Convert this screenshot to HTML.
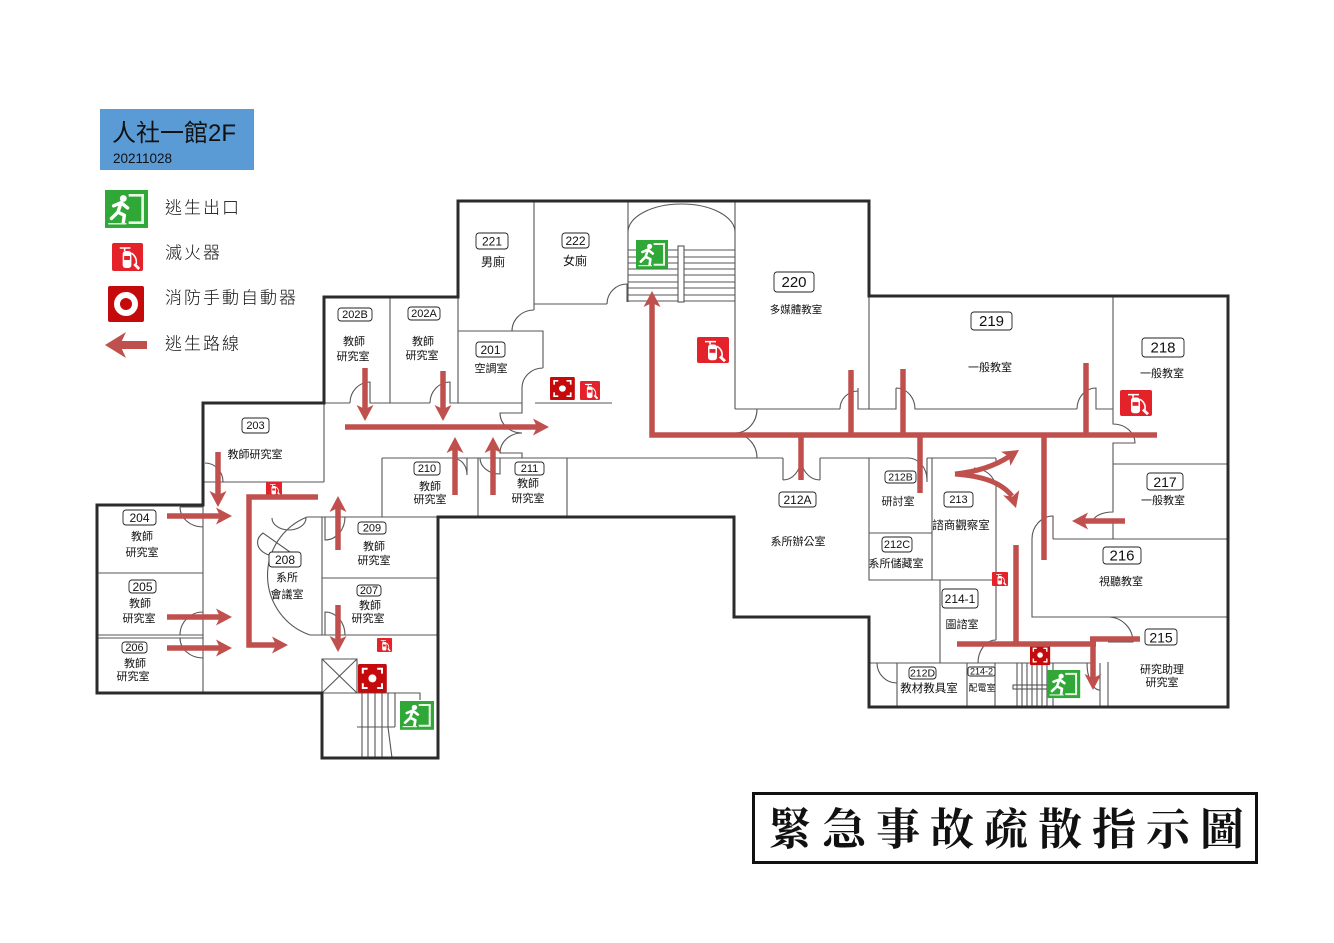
<!DOCTYPE html>
<html><head><meta charset="utf-8">
<style>
html,body{margin:0;padding:0;background:#fff;}
svg{display:block}
</style></head>
<body>
<svg width="1334" height="943" viewBox="0 0 1334 943" xmlns="http://www.w3.org/2000/svg">
<defs>
  <g id="exit">
    <rect width="40" height="36" fill="#2fa838"/>
    <path d="M22,5 H35 V31 H22" fill="none" stroke="#e9f7e4" stroke-width="2.5"/>
    <circle cx="17" cy="8" r="3.2" fill="#fff"/>
    <path d="M8,15 L15,12 L21,17 M15,12 L12,21 L6,27 M12,21 L18,24 L17,31" stroke="#fff" stroke-width="3.2" fill="none" stroke-linecap="round" stroke-linejoin="round"/>
    <path d="M3,32 H20" stroke="#dff2d8" stroke-width="1.5"/>
  </g>
  <g id="ext">
    <rect width="32" height="28" rx="2" fill="#e3222a"/>
    <rect x="11" y="8" width="9" height="17" rx="3" fill="#fff"/>
    <rect x="12.5" y="13" width="6" height="4" fill="#e3222a"/>
    <path d="M13,8 V5 H19 M8,5 H15 M20,10 Q26,14 25,21" stroke="#fff" stroke-width="1.6" fill="none"/>
    <path d="M23,21 L28,26" stroke="#fff" stroke-width="3"/>
  </g>
  <g id="alarm">
    <rect width="36" height="36" rx="2" fill="#c40a0a"/>
    <path d="M6,12 V6 H12 M24,6 H30 V12 M30,24 V30 H24 M12,30 H6 V24" stroke="#fff" stroke-width="2.5" fill="none"/>
    <circle cx="18" cy="18" r="5" fill="#fff"/>
  </g>
</defs>

<rect width="1334" height="943" fill="#fff"/>

<!-- Title box -->
<rect x="100" y="109" width="154" height="61" fill="#5b9bd5"/>
<text x="112" y="141" font-family="Liberation Sans, 'Noto Sans CJK TC', sans-serif" font-size="24" fill="#111">人社一館2F</text>
<text x="113" y="163" font-family="Liberation Sans, sans-serif" font-size="13.5" fill="#111">20211028</text>

<!-- Legend -->
<use href="#exit" transform="translate(105,190) scale(1.075,1.055)"/>
<use href="#ext" transform="translate(112,243) scale(0.97,1)"/>
<g transform="translate(108,286)">
  <rect width="36" height="36" rx="2" fill="#c40a0a"/>
  <circle cx="18" cy="18" r="12" fill="#fff"/>
  <circle cx="18" cy="18" r="6" fill="#c40a0a"/>
</g>
<path d="M147,345 H120" stroke="#c0504d" stroke-width="8"/>
<polygon points="105,345 126,332 120,345 126,358" fill="#c0504d"/>
<g font-family="Liberation Sans, 'Noto Sans CJK TC', sans-serif" font-size="17" font-weight="300" fill="#111" dominant-baseline="central" letter-spacing="2">
  <text x="165" y="208">逃生出口</text>
  <text x="165" y="253">滅火器</text>
  <text x="165" y="298">消防手動自動器</text>
  <text x="165" y="344">逃生路線</text>
</g>

<!-- Thin interior walls -->
<g fill="none" stroke="#555" stroke-width="1.1">
<path d="M534,201 V310 M458,297 V403 M390,297 V403 M458,331 H543 V368 M522,388 A21,20 0 0 1 543,368 M522,388 V403 M512,331 A22,21 0 0 1 534,310 M534,304 H607 M607,304 A20,20 0 0 1 627,284 V302 M628,201 V302 M735,201 V409 M628,232 A53.5,28 0 0 1 735,232"/>
<path d="M628,250 H678 M684,250 H735 M628,257 H678 M684,257 H735 M628,263 H678 M684,263 H735 M628,269 H678 M684,269 H735 M628,275 H678 M684,275 H735 M628,282 H678 M684,282 H735 M628,288 H678 M684,288 H735 M628,295 H678 M684,295 H735 M628,301 H678 M684,301 H735"/>
<rect x="678" y="246" width="6" height="56"/>
<path d="M735,409 H757 A22,24 0 0 1 735,433 M735,458 H757 A22,24 0 0 0 735,434 M735,409 H840 M840,409 A18,18 0 0 1 858,391 M858,388 V409 H896 V388 M896,388 A19,21 0 0 1 915,409 H1077 M1077,409 A19,21 0 0 1 1096,388 V409 H1113 M869,296 V409"/>
<path d="M1113,296 V424 A22,19 0 0 1 1135,443 H1113 V512 A20,10 0 0 0 1093,522 M1113,520 V539 M1113,464 H1228 M1053,539 H1228 M1032,539 V617 H1228 M1032,539 A21,23 0 0 1 1053,516 V539 M1108,617 A25,25 0 0 1 1133,642 H1108 M1108,662 V707 M1087,663 A13,27 0 0 0 1100,690 M1100,663 V707"/>
<path d="M996,458 V464 M974,468 Q992,470 996,486 M996,486 V640 M978,663 A18,23 0 0 1 996,640 M869,458 V580 H996 M932,458 V580 M869,533 H932 M869,458 H908 M908,458 A19,22 0 0 1 927,480 M927,458 V482 M927,458 H996 M820,458 H869 M783,458 V480 M820,458 V480 M783,480 A18,22 0 0 0 801,458 M820,480 A19,22 0 0 1 801,458"/>
<path d="M382,458 H783 M382,458 V517 M478,458 V517 M567,458 V517 M940,580 V663 M869,663 H1017 M877,663 A20,20 0 0 0 897,683 M897,663 V707 M967,663 V707 M995,663 V707 M1005,663 H1095"/>
<path d="M1017,663 V707 M1022,663 V707 M1027,663 V707 M1032,663 V707 M1037,663 V707 M1042,663 V707 M1047,663 V707 M1053,663 V707"/>
<rect x="1013" y="685" width="38" height="4"/>
<path d="M324,403 H350 M350,403 A20,21 0 0 1 370,382 V403 H430 M430,403 A20,21 0 0 1 450,382 V403 H522 M522,403 V413 H500 A22,20 0 0 0 522,433 M522,458 V453 H500 A22,20 0 0 1 522,433 M535,403 H612 M467,458 V475 A12,16 0 0 0 455,459 M480,458 A20,16 0 0 0 500,474 V458"/>
<path d="M203,482 H324 M324,403 V482 M205,463 A18,19 0 0 1 223,482 M203,505 V693 M180,507 H203 M180,507 A23,20 0 0 0 203,527 M203,612 A23,23 0 0 0 180,635 M97,573 H203 M97,635 H203 M97,638 H203 M180,638 A23,20 0 0 0 203,658"/>
<path d="M307,517 H438 M322,517 V635 M322,578 H438 M310,635 H438 M307,517 A63,63 0 0 0 310,635 M325,517 V540 A20,23 0 0 0 345,517 M325,635 V612 A20,23 0 0 1 345,635 M272,518 A17,12 0 0 0 306,518 M263,533 A14,10 0 0 0 290,552 Z"/>
<path d="M322,659 H357 V693 H322 Z M322,659 L357,693 M357,659 L322,693 M357,693 H420 V700 M357,727 H395"/>
<path d="M362,693 V727 M368,693 V727 M375,693 V727 M382,693 V727 M388,693 V727 M395,693 V727 M362,727 V758 M368,727 V758 M375,727 V758 M382,727 V758 M388,727 L392,758"/>
</g>

<!-- Outer thick walls -->
<path d="M458,201 H869 V296 H1228 V707 H869 V617 H734 V517 H438 V758 H322 V693 H97 V505 H203 V403 H324 V297 H458 Z" fill="none" stroke="#2b2b2b" stroke-width="3"/>

<!-- Icons on map -->
<use href="#exit" transform="translate(636,240) scale(0.8,0.8)"/>
<use href="#exit" transform="translate(400,701) scale(0.85,0.8)"/>
<use href="#exit" transform="translate(1047,670) scale(0.83,0.78)"/>
<use href="#ext" transform="translate(580,381) scale(0.625,0.68)"/>
<use href="#ext" transform="translate(697,337) scale(1,0.93)"/>
<use href="#ext" transform="translate(1120,390) scale(1,0.93)"/>
<use href="#ext" transform="translate(992,572) scale(0.5,0.5)"/>
<use href="#ext" transform="translate(266,482) scale(0.5,0.5)"/>
<use href="#ext" transform="translate(377,638) scale(0.47,0.5)"/>
<use href="#alarm" transform="translate(550,377) scale(0.69,0.64)"/>
<use href="#alarm" transform="translate(358,664) scale(0.8,0.8)"/>
<use href="#alarm" transform="translate(1030,645) scale(0.56,0.56)"/>

<!-- Red escape arrows -->
<g stroke="#c0504d" stroke-width="5.5" fill="none">
  <path d="M218,452 V495"/>
  <path d="M318,497 H249 V645 H276"/>
  <path d="M167,516 H220 M167,617 H220 M167,648 H220"/>
  <path d="M338,550 V508 M338,605 V640"/>
  <path d="M365,368 V409 M443,371 V409"/>
  <path d="M345,427 H537"/>
  <path d="M455,495 V449 M493,495 V449"/>
  <path d="M1157,435 H652 V303"/>
  <path d="M851,370 V435 M903,369 V435 M1086,363 V435 M801,435 V480 M920,435 V493 M1044,435 V560"/>
  <path d="M955,474 C975,472 995,466 1010,456 M955,474 C980,476 1000,481 1012,496" stroke-width="5"/>
  <path d="M1125,521 H1084"/>
  <path d="M1016,545 V644 M957,644 H1096 M1090,639 H1140 M1093,639 V678"/>
</g>
<g fill="#c0504d">
  <polygon points="218,507 209.5,491 218,495 226.5,491"/>
  <polygon points="288,645 272,636.5 276,645 272,653.5"/>
  <polygon points="232,516 216,507.5 220,516 216,524.5"/>
  <polygon points="232,617 216,608.5 220,617 216,625.5"/>
  <polygon points="232,648 216,639.5 220,648 216,656.5"/>
  <polygon points="338,496 329.5,512 338,508 346.5,512"/>
  <polygon points="338,652 329.5,636 338,640 346.5,636"/>
  <polygon points="365,421 356.5,405 365,409 373.5,405"/>
  <polygon points="443,421 434.5,405 443,409 451.5,405"/>
  <polygon points="549,427 533,418.5 537,427 533,435.5"/>
  <polygon points="455,437 446.5,453 455,449 463.5,453"/>
  <polygon points="493,437 484.5,453 493,449 501.5,453"/>
  <polygon points="652,291 643.5,307 652,303 660.5,307"/>
  <polygon points="1019,450 1010.4,465.9 1009,456.6 1001,451.7"/>
  <polygon points="1016,508 1019.3,490.1 1012.4,496.6 1003.1,495.3"/>
  <polygon points="1072,521 1088,512.5 1084,521 1088,529.5"/>
  <polygon points="1093,690 1084.5,674 1093,678 1101.5,674"/>
</g>

<!-- Room number boxes -->
<g fill="#fff" stroke="#222" stroke-width="0.9">
  <rect x="476" y="233" width="32" height="16" rx="3"/>
  <rect x="562" y="233" width="27" height="15" rx="3"/>
  <rect x="338" y="308" width="34" height="13" rx="3"/>
  <rect x="408" y="307" width="32" height="13" rx="3"/>
  <rect x="476" y="342" width="29" height="15" rx="3"/>
  <rect x="414" y="462" width="26" height="13" rx="3"/>
  <rect x="515" y="462" width="29" height="13" rx="3"/>
  <rect x="242" y="418" width="27" height="15" rx="3"/>
  <rect x="123" y="510" width="33" height="15" rx="3"/>
  <rect x="129" y="580" width="27" height="13" rx="3"/>
  <rect x="122" y="642" width="25" height="11" rx="3"/>
  <rect x="269" y="552" width="32" height="15" rx="3"/>
  <rect x="358" y="522" width="28" height="12" rx="3"/>
  <rect x="357" y="585" width="24" height="11" rx="3"/>
  <rect x="774" y="272" width="40" height="20" rx="3"/>
  <rect x="971" y="312" width="41" height="18" rx="3"/>
  <rect x="1142" y="338" width="42" height="19" rx="3"/>
  <rect x="1147" y="473" width="36" height="17" rx="3"/>
  <rect x="1103" y="547" width="38" height="17" rx="3"/>
  <rect x="1145" y="629" width="32" height="16" rx="3"/>
  <rect x="779" y="492" width="37" height="15" rx="3"/>
  <rect x="885" y="471" width="31" height="12" rx="3"/>
  <rect x="944" y="492" width="29" height="15" rx="3"/>
  <rect x="882" y="537" width="30" height="15" rx="3"/>
  <rect x="942" y="589" width="36" height="19" rx="3"/>
  <rect x="909" y="667" width="27" height="12" rx="3"/>
  <rect x="968" y="667" width="27" height="9" rx="2"/>
</g>
<g font-family="Liberation Sans, sans-serif" fill="#111" text-anchor="middle" dominant-baseline="central">
  <text x="492" y="241.5" font-size="12">221</text>
  <text x="575.5" y="241" font-size="12">222</text>
  <text x="355" y="315" font-size="11">202B</text>
  <text x="424" y="314" font-size="11">202A</text>
  <text x="490.5" y="350" font-size="12">201</text>
  <text x="427" y="469" font-size="11">210</text>
  <text x="529.5" y="469" font-size="11">211</text>
  <text x="255.5" y="426" font-size="11">203</text>
  <text x="139.5" y="518" font-size="12">204</text>
  <text x="142.5" y="587" font-size="12">205</text>
  <text x="134.5" y="648" font-size="11">206</text>
  <text x="285" y="560" font-size="12">208</text>
  <text x="372" y="528.5" font-size="11">209</text>
  <text x="369" y="591" font-size="11">207</text>
  <text x="794" y="282.5" font-size="15">220</text>
  <text x="991.5" y="321.5" font-size="15">219</text>
  <text x="1163" y="348" font-size="15">218</text>
  <text x="1165" y="482" font-size="14">217</text>
  <text x="1122" y="556" font-size="15">216</text>
  <text x="1161" y="637.5" font-size="14">215</text>
  <text x="797.5" y="500" font-size="12">212A</text>
  <text x="900.5" y="477.5" font-size="10.5">212B</text>
  <text x="958.5" y="500" font-size="11">213</text>
  <text x="897" y="545" font-size="11">212C</text>
  <text x="960" y="599" font-size="12">214-1</text>
  <text x="922.5" y="673.5" font-size="10.5">212D</text>
  <text x="981.5" y="671.5" font-size="9">214-2</text>
</g>

<!-- Room names -->
<g font-family="Liberation Sans, 'Noto Sans CJK TC', sans-serif" fill="#111" text-anchor="middle" dominant-baseline="central" font-size="11">
  <text x="493" y="262" font-size="12">男廁</text>
  <text x="575" y="261" font-size="12">女廁</text>
  <text x="354" y="342">教師</text><text x="353" y="357">研究室</text>
  <text x="423" y="342">教師</text><text x="422" y="356">研究室</text>
  <text x="491" y="369">空調室</text>
  <text x="430" y="487">教師</text><text x="430" y="500">研究室</text>
  <text x="528" y="484">教師</text><text x="528" y="499">研究室</text>
  <text x="255" y="455">教師研究室</text>
  <text x="142" y="537">教師</text><text x="142" y="553">研究室</text>
  <text x="140" y="604">教師</text><text x="139" y="619">研究室</text>
  <text x="135" y="664">教師</text><text x="133" y="677">研究室</text>
  <text x="287" y="578">系所</text><text x="287" y="595">會議室</text>
  <text x="374" y="547">教師</text><text x="374" y="561">研究室</text>
  <text x="370" y="606">教師</text><text x="368" y="619">研究室</text>
  <text x="796" y="310" font-size="10.5">多媒體教室</text>
  <text x="990" y="368">一般教室</text>
  <text x="1162" y="374">一般教室</text>
  <text x="1163" y="501">一般教室</text>
  <text x="1121" y="582">視聽教室</text>
  <text x="1162" y="670">研究助理</text><text x="1162" y="683">研究室</text>
  <text x="798" y="542">系所辦公室</text>
  <text x="898" y="502">研討室</text>
  <text x="961" y="526" font-size="11.5">諮商觀察室</text>
  <text x="896" y="564">系所儲藏室</text>
  <text x="962" y="625">圖諮室</text>
  <text x="929" y="689" font-size="11.5">教材教具室</text>
  <text x="982" y="688" font-size="9">配電室</text>
</g>

<!-- Bottom title -->
<rect x="753.5" y="793.5" width="503" height="69" fill="#fff" stroke="#111" stroke-width="3"/>
<text x="790 844 898 952 1006 1060 1114 1168 1222" y="830" font-family="Liberation Serif, 'Noto Serif CJK SC', serif" font-size="44" font-weight="700" fill="#111" text-anchor="middle" dominant-baseline="central">緊急事故疏散指示圖</text>
</svg>
</body></html>
